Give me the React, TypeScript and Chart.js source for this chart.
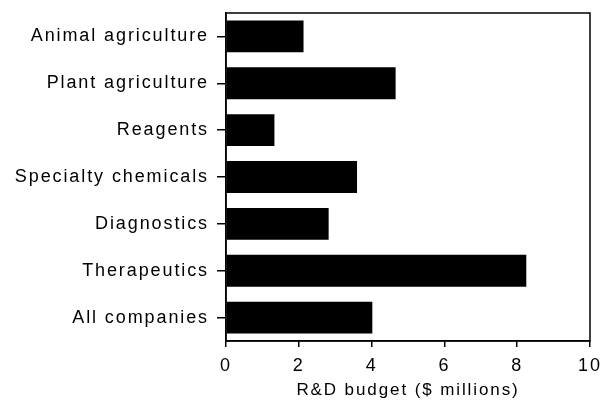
import React, { useEffect, useRef } from "react";
import { Chart, registerables } from "chart.js";

Chart.register(...registerables);

const categories = [
  "Animal agriculture",
  "Plant agriculture",
  "Reagents",
  "Specialty chemicals",
  "Diagnostics",
  "Therapeutics",
  "All companies",
];
const budgets = [2.13, 4.66, 1.33, 3.6, 2.82, 8.25, 4.02];
const xTicks = [0, 2, 4, 6, 8, 10];

const FONT = "'Liberation Sans', Arial, Helvetica, sans-serif";

const spacingPlugin = {
  id: "spacing",
  beforeUpdate(chart: any) {
    chart.ctx.letterSpacing = "1.9px";
  },
  beforeDraw(chart: any) {
    chart.ctx.letterSpacing = "1.9px";
  },
};

const boxPlugin = {
  id: "box",
  afterDraw(chart: any) {
    const { ctx, chartArea } = chart;
    ctx.save();
    ctx.strokeStyle = "#000";
    ctx.lineWidth = 1.5;
    ctx.strokeRect(chartArea.left, chartArea.top, chartArea.right - chartArea.left, chartArea.bottom - chartArea.top);
    ctx.restore();
  },
};

export default function App() {
  const ref = useRef<HTMLCanvasElement>(null);
  useEffect(() => {
    const chart = new Chart(ref.current!, {
      type: "bar",
      data: {
        labels: categories,
        datasets: [
          {
            data: budgets,
            backgroundColor: "#000",
            borderWidth: 0,
            barPercentage: 0.68,
            categoryPercentage: 1,
          },
        ],
      },
      options: {
        indexAxis: "y",
        animation: false,
        responsive: false,
        layout: { padding: { top: 13, right: 13, bottom: 0, left: 0 } },
        plugins: { legend: { display: false }, tooltip: { enabled: false } },
        scales: {
          x: {
            min: 0,
            max: 10,
            afterBuildTicks: (axis: any) => {
              axis.ticks = xTicks.map((v) => ({ value: v }));
            },
            afterFit: (axis: any) => {
              axis.height = 62;
              axis.paddingLeft = 0;
              axis.paddingRight = 0;
            },
            grid: { drawOnChartArea: false, tickLength: 6, color: "#000", lineWidth: 1.5 },
            border: { color: "#000", width: 1.5 },
            ticks: { color: "#000", font: { family: FONT, size: 18 }, padding: 8 },
            title: {
              display: true,
              text: "R&D budget ($ millions)",
              color: "#000",
              font: { family: FONT, size: 17 },
              padding: { top: 1, bottom: 2 },
            },
          },
          y: {
            afterFit: (axis: any) => {
              axis.width = 226;
              axis.paddingTop = 0;
              axis.paddingBottom = 0;
            },
            grid: { offset: false, drawOnChartArea: false, tickLength: 9, color: "#000", lineWidth: 1.5 },
            border: { color: "#000", width: 1.5 },
            ticks: { color: "#000", font: { family: FONT, size: 18 }, padding: 8 },
          },
        },
      },
      plugins: [spacingPlugin, boxPlugin],
    });
    return () => chart.destroy();
  }, []);
  return (
    <div style={{ position: "absolute", left: 0, top: 0, width: 603, height: 403, background: "#fff" }}>
      <canvas ref={ref} width={603} height={403} />
    </div>
  );
}
